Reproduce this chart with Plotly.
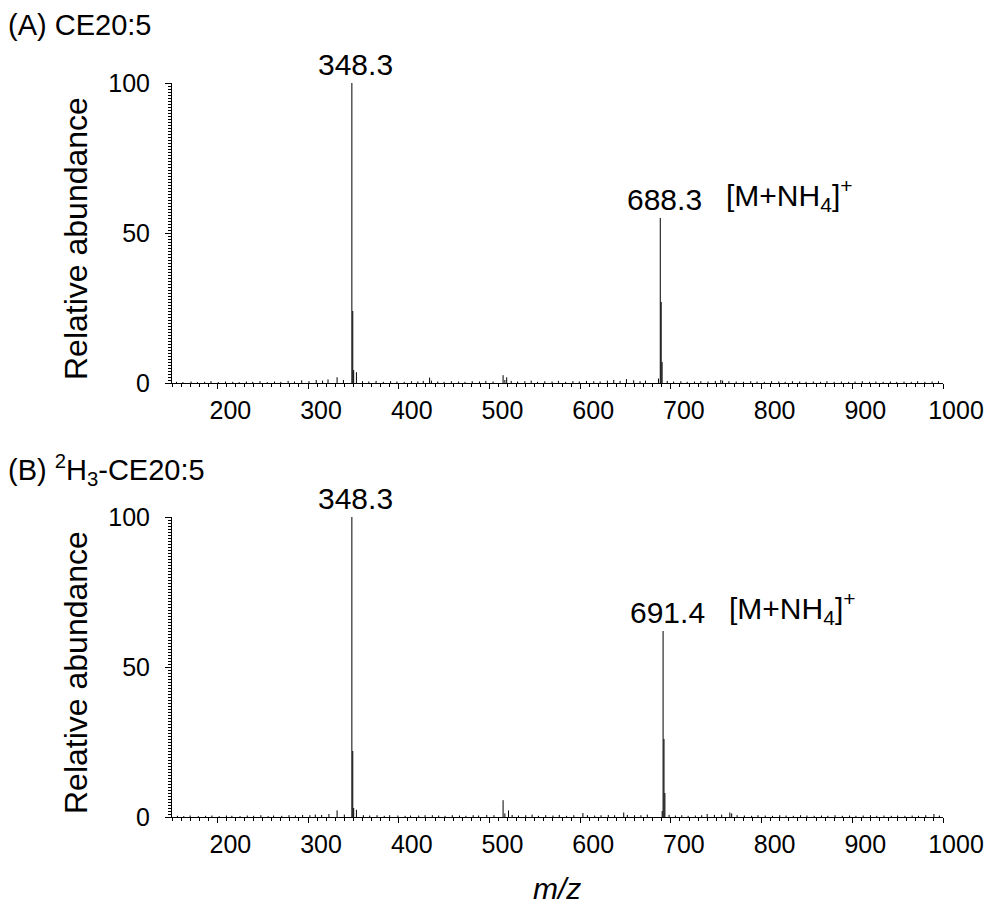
import plotly.graph_objects as go

# ---- Spectrum data (m/z, relative abundance) ----
# (A) CE20:5
mz_a = [155, 162, 171, 178, 186, 193, 201, 209, 217, 224, 232, 239, 247, 255,
        263, 270, 278, 285, 293, 301, 309, 316, 322, 332, 339,
        348.3, 349.3, 350.3, 353.3,
        360, 367, 375, 383, 391, 398, 406, 414, 421, 427, 434, 436, 443, 450,
        458, 466, 473, 481, 489, 496, 504, 515, 517, 519, 524, 531, 539, 546,
        553, 561, 569, 576, 584, 592, 599, 607, 615, 622, 630, 637, 644, 651,
        659, 666, 672, 686.3,
        688.3, 689.3, 690.3,
        696, 703, 711, 718, 726, 733, 741, 749, 755, 757, 764, 772, 780, 788,
        795, 803, 811, 819, 826, 834, 842, 849, 857, 865, 872, 880, 888, 896,
        903, 911, 919, 926, 934, 942, 949, 957, 965, 972, 980, 988, 995]
int_a = [0.4, 0.3, 0.5, 0.3, 0.4, 0.6, 0.3, 0.5, 0.4, 0.3, 0.5, 0.4, 0.6, 0.3,
         0.5, 0.4, 0.7, 0.5, 0.9, 0.6, 1.0, 0.8, 1.2, 1.9, 1.0,
         100, 24, 4.3, 3.6,
         0.6, 0.5, 0.7, 0.4, 0.6, 0.5, 0.4, 0.6, 0.5, 0.7, 1.8, 0.8, 0.5, 0.4,
         0.6, 0.5, 0.4, 0.6, 0.5, 0.7, 0.5, 2.6, 1.0, 1.9, 0.7, 0.5, 0.6, 0.8,
         0.4, 0.6, 0.5, 0.7, 0.4, 0.6, 0.5, 0.7, 0.6, 0.5, 0.8, 1.0, 0.7, 1.3,
         0.9, 0.6, 0.8, 1.5,
         55, 27, 7,
         0.7, 0.5, 0.6, 0.4, 0.5, 0.6, 0.5, 0.7, 1.0, 0.8, 0.6, 0.5, 0.4, 0.6,
         0.5, 0.4, 0.6, 0.5, 0.4, 0.6, 0.5, 0.4, 0.5, 0.4, 0.6, 0.4, 0.5, 0.4,
         0.5, 0.6, 0.4, 0.5, 0.4, 0.5, 0.4, 0.5, 0.4, 0.6, 0.4, 0.5, 0.6]

# (B) 2H3-CE20:5
mz_b = [156, 163, 170, 179, 187, 194, 202, 210, 216, 225, 233, 240, 248, 256,
        262, 271, 279, 286, 294, 302, 308, 315, 323, 332, 340,
        348.3, 349.3, 350.3, 353.3,
        361, 368, 376, 384, 390, 399, 407, 413, 422, 429, 437, 444, 451, 459,
        467, 474, 482, 488, 497, 505, 515, 517, 521, 525, 532, 540, 547, 554,
        562, 570, 577, 585, 593, 603, 608, 616, 623, 631, 638, 648, 652, 660,
        667, 674, 690.4,
        691.4, 692.4, 693.4,
        698, 705, 712, 719, 727, 734, 740, 748, 756, 765, 767, 773, 781, 789,
        796, 804, 812, 820, 827, 835, 843, 850, 858, 866, 873, 881, 889, 897,
        904, 912, 920, 927, 935, 943, 950, 958, 966, 973, 981, 990, 996]
int_b = [0.4, 0.3, 0.5, 0.3, 0.4, 0.5, 0.3, 0.5, 0.4, 0.3, 0.5, 0.4, 0.6, 0.3,
         0.5, 0.4, 0.6, 0.5, 0.7, 0.6, 0.8, 0.7, 1.0, 2.2, 0.8,
         100, 22, 3.0, 2.4,
         0.6, 0.5, 0.6, 0.4, 0.6, 0.5, 0.4, 0.5, 0.5, 0.6, 0.6, 0.5, 0.4, 0.6,
         0.5, 0.4, 0.6, 0.5, 0.7, 0.6, 5.6, 1.2, 2.2, 0.7, 0.5, 0.6, 0.8, 0.4,
         0.6, 0.5, 0.7, 0.4, 0.6, 1.3, 0.6, 0.5, 0.6, 0.7, 0.6, 1.5, 0.7, 0.6,
         0.6, 0.8, 2.0,
         62, 26, 8,
         0.7, 0.5, 0.6, 0.4, 0.5, 0.6, 1.0, 0.7, 0.8, 1.5, 1.2, 0.6, 0.5, 0.4,
         0.6, 0.5, 0.4, 0.6, 0.5, 0.4, 0.6, 0.5, 0.4, 0.5, 0.4, 0.6, 0.4, 0.5,
         0.4, 0.5, 0.6, 0.4, 0.5, 0.4, 0.5, 0.4, 0.5, 0.4, 0.6, 1.0, 0.5]

x_ticks = [200, 300, 400, 500, 600, 700, 800, 900, 1000]
y_ticks = [0, 50, 100]

# Labelled peaks: (m/z, intensity, label)
labels_a = [(348.3, 100, "348.3"), (688.3, 55, "688.3")]
labels_b = [(348.3, 100, "348.3"), (691.4, 62, "691.4")]
ion_text = "[M+NH<sub>4</sub>]<sup>+</sup>"

FONT = "Liberation Sans, Arial, sans-serif"
W, H = 998, 907


def sticks(mz, inten):
    xs, ys = [], []
    for m, h in zip(mz, inten):
        xs += [m, m, None]
        ys += [0, h, None]
    return xs, ys


fig = go.Figure()
for mz, inten, xa, ya in [(mz_a, int_a, "x", "y"), (mz_b, int_b, "x2", "y2")]:
    xs, ys = sticks(mz, inten)
    fig.add_trace(go.Scatter(x=xs, y=ys, mode="lines", xaxis=xa, yaxis=ya,
                             line=dict(color="black", width=1),
                             hoverinfo="skip", showlegend=False))

x_dom = [172 / W, 943 / W]
dom_a = [(H - 383) / H, (H - 83) / H]
dom_b = [(H - 817) / H, (H - 517) / H]


def xaxis_cfg(anchor):
    return dict(domain=x_dom, anchor=anchor, range=[150, 1000],
                automargin=False,
                showline=True, linecolor="black", linewidth=1,
                ticks="outside", ticklen=5, tickwidth=1, tickcolor="black",
                tickvals=x_ticks, ticktext=[str(v) for v in x_ticks],
                ticklabelshift=13, ticklabelstandoff=0,
                minor=dict(dtick=10, tick0=0, ticks="outside", ticklen=3,
                           tickcolor="black", tickwidth=1),
                tickfont=dict(family=FONT, size=25, color="black"),
                showgrid=False, zeroline=False)


def yaxis_cfg(dom, anchor):
    return dict(domain=dom, anchor=anchor, range=[0, 100],
                automargin=False,
                showline=True, linecolor="black", linewidth=1,
                ticks="outside", ticklen=6, tickwidth=1, tickcolor="black",
                tickvals=y_ticks, ticklabelstandoff=10,
                minor=dict(dtick=1, tick0=0, ticks="outside", ticklen=3,
                           tickcolor="black", tickwidth=1),
                tickfont=dict(family=FONT, size=25, color="black"),
                showgrid=False, zeroline=False)


annotations = []
for labs, xr, yr in [(labels_a, "x", "y"), (labels_b, "x2", "y2")]:
    for m, h, t in labs:
        annotations.append(dict(x=m, y=h, xref=xr, yref=yr, text=t,
                                showarrow=False, xanchor="center",
                                yanchor="bottom", xshift=4, yshift=0,
                                font=dict(family=FONT, size=30, color="black")))
    m, h, _ = labs[1]
    annotations.append(dict(x=m, y=h, xref=xr, yref=yr, text=ion_text,
                            showarrow=False, xanchor="left", yanchor="bottom",
                            xshift=64, yshift=0,
                            font=dict(family=FONT, size=30, color="black")))

# panel titles
annotations.append(dict(x=6 / W, y=(H - 25) / H, xref="paper", yref="paper",
                        text="(A) CE20:5", showarrow=False, xanchor="left",
                        yanchor="middle",
                        font=dict(family=FONT, size=29, color="black")))
annotations.append(dict(x=6 / W, y=(H - 470) / H, xref="paper", yref="paper",
                        text="(B) <sup>2</sup>H<sub>3</sub>-CE20:5",
                        showarrow=False, xanchor="left", yanchor="middle",
                        font=dict(family=FONT, size=29, color="black")))

# y-axis titles
for dom in (dom_a, dom_b):
    annotations.append(dict(x=76 / W, y=(dom[0] + dom[1]) / 2 - 6 / H,
                            xref="paper", yref="paper",
                            text="Relative abundance", textangle=-90,
                            showarrow=False, xanchor="center", yanchor="middle",
                            font=dict(family=FONT, size=32, color="black")))

# x-axis title
annotations.append(dict(x=557 / W, y=(H - 888) / H, xref="paper", yref="paper",
                        text="<i>m/z</i>", showarrow=False, xanchor="center",
                        yanchor="middle",
                        font=dict(family=FONT, size=30, color="black")))

fig.update_layout(
    width=W, height=H,
    margin=dict(l=0, r=0, t=0, b=0, autoexpand=False),
    paper_bgcolor="white", plot_bgcolor="white",
    xaxis=xaxis_cfg("y"), yaxis=yaxis_cfg(dom_a, "x"),
    xaxis2=xaxis_cfg("y2"), yaxis2=yaxis_cfg(dom_b, "x2"),
    annotations=annotations,
    showlegend=False,
)

fig.write_html("out.html")
